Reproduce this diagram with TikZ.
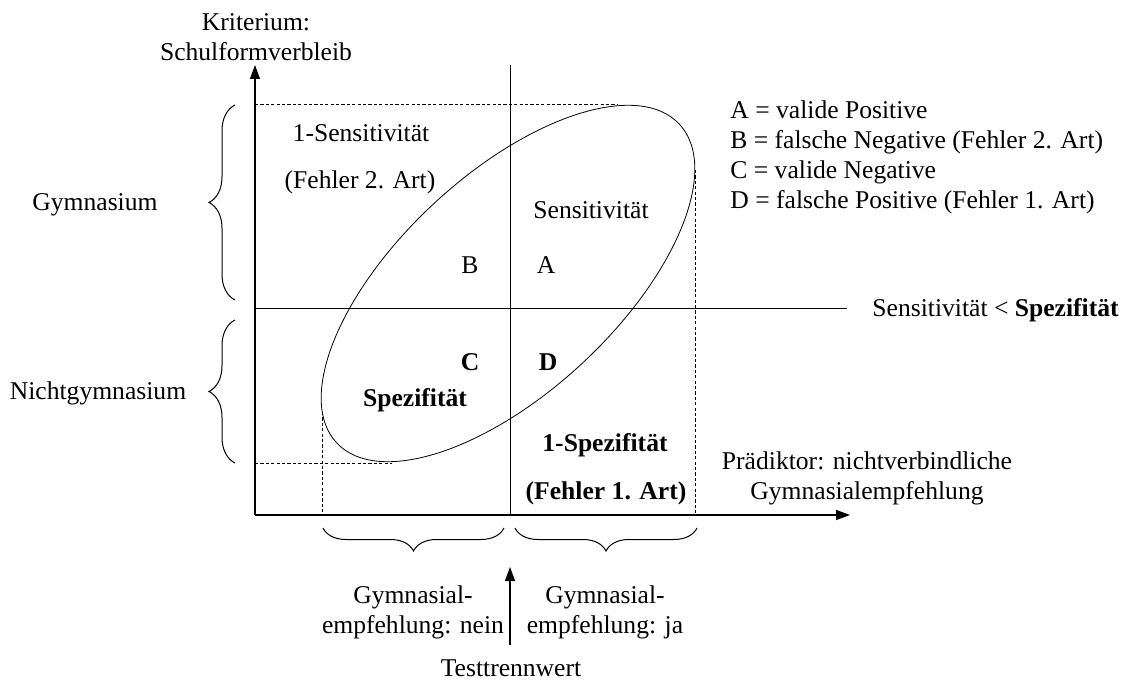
\documentclass[tikz,border=0pt]{standalone}
\usepackage{fontspec}
\setmainfont{Liberation Serif}
\usetikzlibrary{arrows.meta,decorations.pathreplacing}

\begin{document}
\begin{tikzpicture}[
    x=0.5pt, y=0.5pt,
    font=\fontsize{12.8}{15}\selectfont,
    text=black,
    axis/.style={-{Triangle[width=5pt,length=7pt]}, line width=0.7pt},
    divider/.style={line width=0.5pt},
    guide/.style={dash pattern=on 1.6pt off 1.1pt, line width=0.5pt},
    bracket/.style={decorate, decoration={brace, amplitude=#1}, line width=0.5pt},
    txt/.style={align=center, inner sep=0pt}
]

\useasboundingbox (0,0) rectangle (1130,681);

% ==================== AXES ====================
\coordinate (origin) at (255,166);
\coordinate (ytip) at (255,616);
\coordinate (xtip) at (850,166);
\draw[axis] (origin) -- (ytip);
\draw[axis] (origin) -- (xtip);

% Cut lines
\draw[divider] (510,166) -- (510,616);
\draw[divider] (255,372) -- (847,372);

% Ellipse of the joint distribution
\draw[line width=0.4pt, rotate around={42.9:(508,397.5)}] (508,397.5) ellipse [x radius=234, y radius=109];

% Dashed guides to the ellipse
\draw[guide] (255,576) -- (617,576);
\draw[guide] (695,511) -- (695,166);
\draw[guide] (255,218) -- (392,218);
\draw[guide] (322,269) -- (322,166);

% ==================== BRACES ====================
\draw[bracket=13pt] (235,381) -- (235,576);
\draw[bracket=13pt] (235,218) -- (235,361);
\draw[bracket=11.5pt, decoration={mirror}] (323,153) -- (504,153);
\draw[bracket=11.5pt, decoration={mirror}] (515,153) -- (697,153);

% Test cut arrow
\coordinate (cutbase) at (510,36);
\coordinate (cuttip) at (510,114);
\draw[axis, line width=0.6pt] (cutbase) -- (cuttip);

% ==================== LABELS ====================
\node[txt] (crit) at (256,643.5) {Kriterium:\\Schulformverbleib};
\node[txt] (pred) at (867,203) {Prädiktor: nichtverbindliche\\Gymnasialempfehlung};
\node[txt] (gym) at (95,476) {Gymnasium};
\node[txt] (nongym) at (98,288) {Nichtgymnasium};
\node[txt] (recno) at (413,68.5) {Gymnasial-\\empfehlung: nein};
\node[txt] (recyes) at (605,68.5) {Gymnasial-\\empfehlung: ja};
\node[txt] (cut) at (511,13) {Testtrennwert};

% Quadrants
\node[txt] (missrate) at (361,548) {1-Sensitivität};
\node[txt] (misserr) at (360,499) {(Fehler 2. Art)};
\node[txt] (sens) at (591,471) {Sensitivität};
\node[txt] (qb) at (470,416) {B};
\node[txt] (qa) at (546,416) {A};
\node[txt] (qc) at (470,319) {\textbf{C}};
\node[txt] (qd) at (548,319) {\textbf{D}};
\node[txt] (spec) at (415,281) {\textbf{Spezifität}};
\node[txt] (falserate) at (605,236) {\textbf{1-Spezifität}};
\node[txt] (falseerr) at (606,188) {\textbf{(Fehler 1. Art)}};

% Legend
\node[txt, anchor=west, align=left] (legend) at (730,524) {A = valide Positive\\B = falsche Negative (Fehler 2. Art)\\C = valide Negative\\D = falsche Positive (Fehler 1. Art)};
\node[txt, anchor=west] (compare) at (872,371) {Sensitivität < \textbf{Spezifität}};

\end{tikzpicture}
\end{document}
